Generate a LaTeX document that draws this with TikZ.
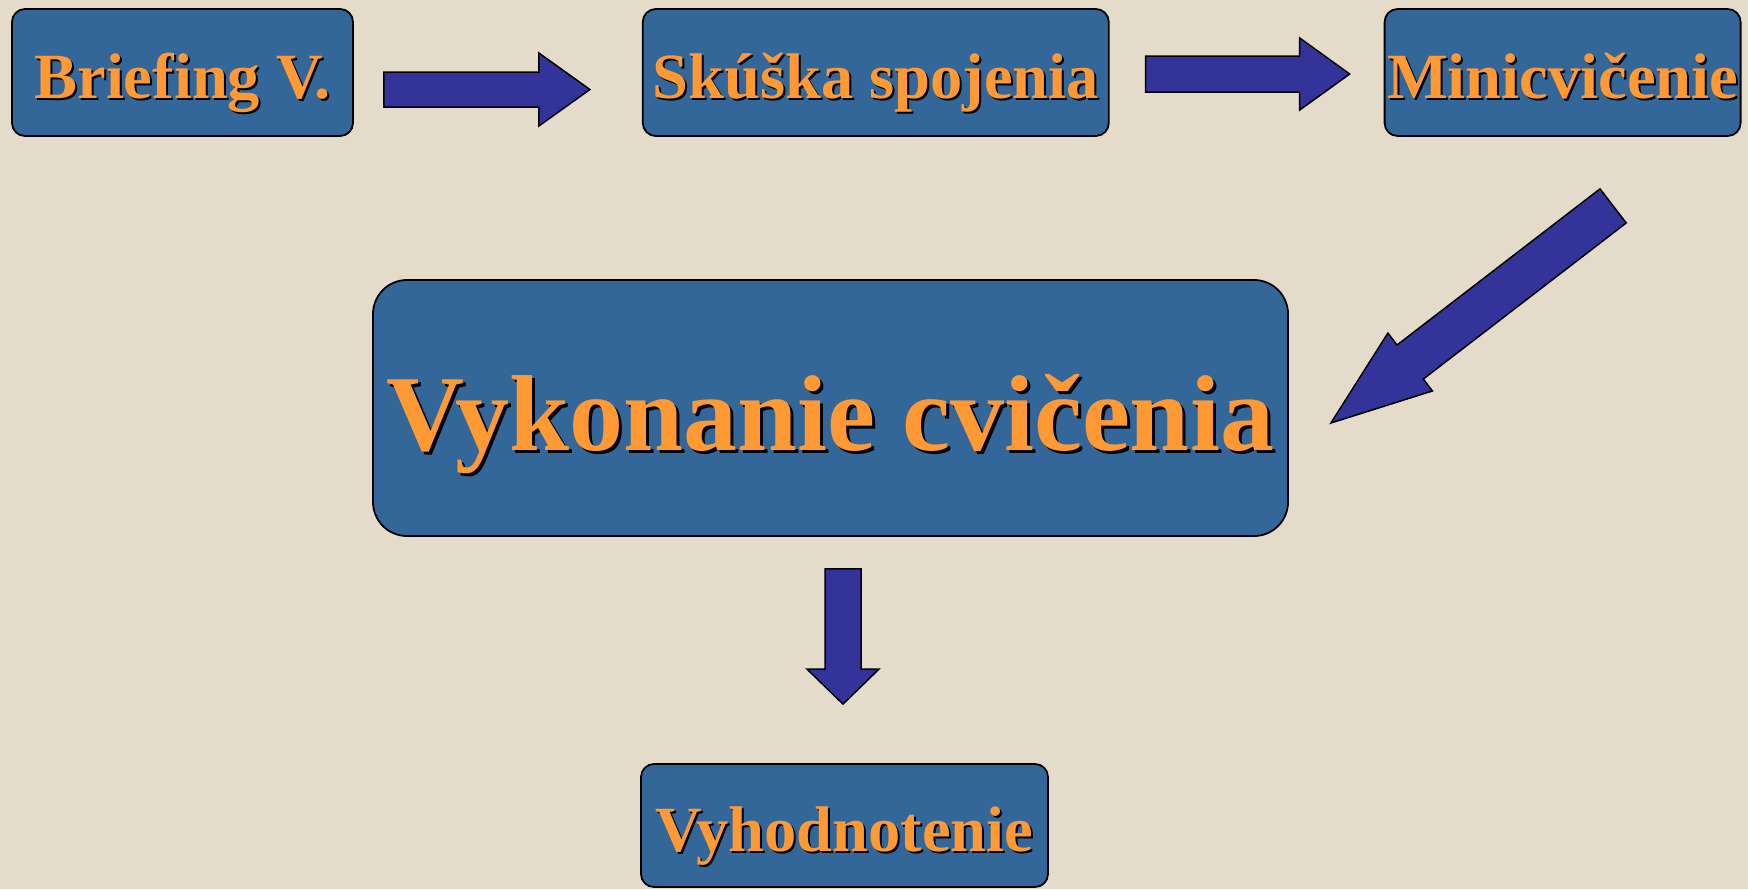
\documentclass[tikz,border=0pt]{standalone}
\usepackage{fontspec}
\setmainfont{Liberation Serif}
\usepackage{xcolor}
\usepackage{tikz}
\usetikzlibrary{positioning,calc}
\definecolor{slBlue}{HTML}{336699}
\definecolor{slOrange}{HTML}{FF9933}
\definecolor{slArrow}{HTML}{333399}
\definecolor{slPaper}{HTML}{E4DBCB}
\newcommand\shtext[2][2pt]{\makebox[0pt][l]{\kern#1\raisebox{-#1}{\color{black}#2}}#2}
\newcommand\fatarrow[5]{%
  \coordinate (hb) at ($(#2)!#5!(#1)$);
  \draw[sarrow] ($(#1)!#3!90:(#2)$) -- ($(hb)!#3!90:(#2)$) -- ($(hb)!#4!90:(#2)$) -- (#2)
    -- ($(hb)!#4!-90:(#2)$) -- ($(hb)!#3!-90:(#2)$) -- ($(#1)!#3!-90:(#2)$) -- cycle;}
\tikzset{
  sbox/.style={draw=black,line width=1.8pt,fill=slBlue,rounded corners=13pt,inner sep=0pt,
    text=slOrange,font=\fontsize{64.5}{70}\selectfont\bfseries,minimum height=127pt,
    text height=51pt,text depth=0pt},
  sbig/.style={sbox,rounded corners=34pt,font=\fontsize{108}{120}\selectfont\bfseries,text height=84pt},
  sarrow/.style={draw=black,line width=1.5pt,fill=slArrow,line join=miter},
}

\begin{document}
\begin{tikzpicture}[x=1pt,y=1pt]
\fill[slPaper] (0,0) rectangle (1748,-889);
\useasboundingbox (0,0) rectangle (1748,-889);
\node[sbox,minimum width=341pt] (brief) at (182.5,-72.5) {\shtext{Briefing V.}};
\node[sbox,minimum width=466pt,right=288pt of brief] (skuska) {\shtext{Skúška spojenia}};
\node[sbox,minimum width=356pt,right=274pt of skuska] (mini) {\shtext{Minicvičenie}};
\node[sbig,minimum width=915pt,minimum height=256pt] (vykon) at (830.5,-408) {\shtext[3pt]{Vykonanie cvičenia}};
\node[sbox,minimum width=407pt,minimum height=123pt] (vyhod) at (844.5,-825.5) {\shtext{Vyhodnotenie}};
\coordinate (a1s) at ($(brief.east)+(30,-17)$);
\coordinate (a1e) at ($(skuska.west)+(-52,-17)$);
\fatarrow{a1s}{a1e}{17.5pt}{36.5pt}{51pt}
\coordinate (a2s) at ($(skuska.east)+(36,-1.5)$);
\coordinate (a2e) at ($(mini.west)+(-34,-1.5)$);
\fatarrow{a2s}{a2e}{18pt}{36pt}{50pt}
\coordinate (a3s) at ($(mini.south)+(50.5,-69)$);
\coordinate (a3e) at ($(vykon.east)+(42,-15)$);
\fatarrow{a3s}{a3e}{21.5pt}{36.5pt}{100pt}
\coordinate (a4s) at ($(vykon.south)+(12.5,-32)$);
\coordinate (a4e) at ($(vyhod.north)+(-1.5,59)$);
\fatarrow{a4s}{a4e}{18pt}{36pt}{35pt}
\end{tikzpicture}
\end{document}
